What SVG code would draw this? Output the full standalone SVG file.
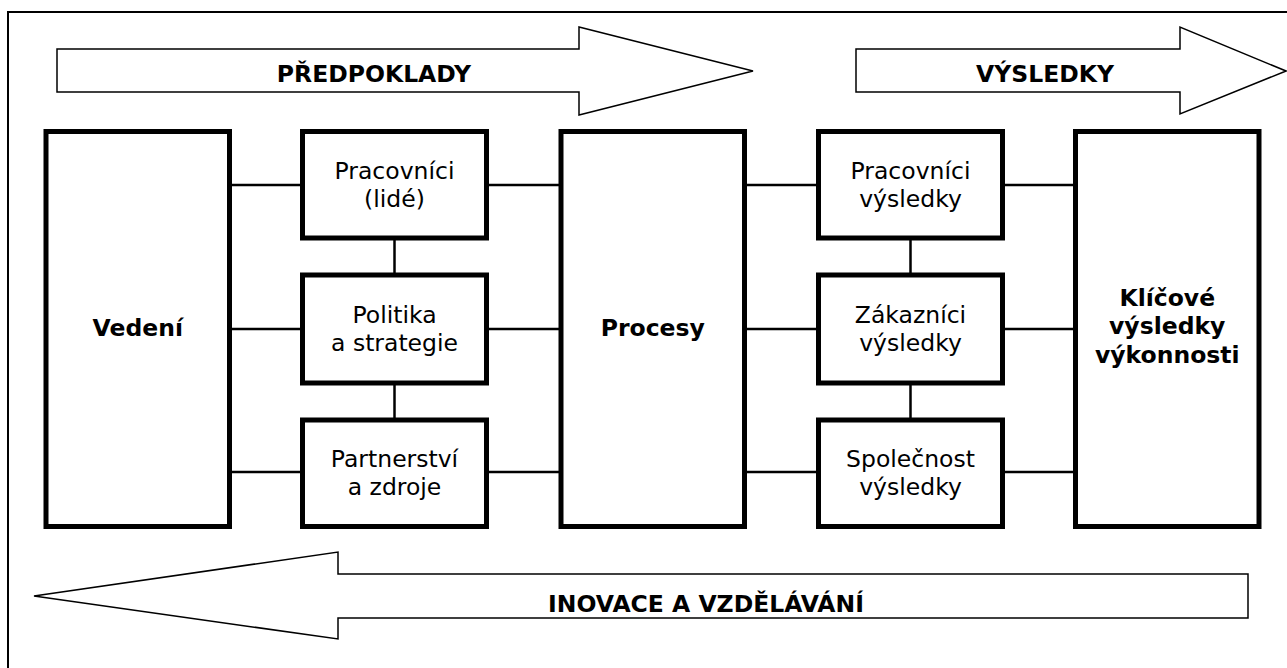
<svg xmlns="http://www.w3.org/2000/svg" width="1287" height="668" viewBox="0 0 1287 668">
  <style>
    .frame { fill: none; stroke: #000; stroke-width: 2; }
    .arrow { fill: #fff; stroke: #000; stroke-width: 1.5; stroke-linejoin: miter; }
    .box { fill: #fff; stroke: #000; stroke-width: 5; }
    .conn line { stroke: #000; stroke-width: 2.5; }
    text { font-family: "DejaVu Sans", Verdana, sans-serif; font-size: 23.5px; fill: #000; text-anchor: middle; }
    .b { font-weight: bold; }
  </style>
  <rect width="1287" height="668" fill="#fff"/>
  <path class="frame" d="M8,672 V12 H1292"/>

  <g id="arrow-predpoklady">
    <polygon class="arrow" points="57,49 579,49 579,27 753,71 579,115 579,92 57,92"/>
    <text class="b" x="374" y="82">PŘEDPOKLADY</text>
  </g>
  <g id="arrow-vysledky">
    <polygon class="arrow" points="856,49 1180,49 1180,27 1286,71 1180,114 1180,92 856,92"/>
    <text class="b" x="1045" y="82">VÝSLEDKY</text>
  </g>
  <g id="arrow-inovace">
    <polygon class="arrow" points="1248,574 338,574 338,552 34,596 338,639 338,618 1248,618"/>
    <text class="b" x="706" y="612">INOVACE A VZDĚLÁVÁNÍ</text>
  </g>

  <g id="connectors" class="conn">
    <line x1="229.5" y1="185" x2="302.5" y2="185"/>
    <line x1="229.5" y1="329" x2="302.5" y2="329"/>
    <line x1="229.5" y1="472" x2="302.5" y2="472"/>
    <line x1="486.5" y1="185" x2="561" y2="185"/>
    <line x1="486.5" y1="329" x2="561" y2="329"/>
    <line x1="486.5" y1="472" x2="561" y2="472"/>
    <line x1="744.5" y1="185" x2="818.5" y2="185"/>
    <line x1="744.5" y1="329" x2="818.5" y2="329"/>
    <line x1="744.5" y1="472" x2="818.5" y2="472"/>
    <line x1="1002.5" y1="185" x2="1075.5" y2="185"/>
    <line x1="1002.5" y1="329" x2="1075.5" y2="329"/>
    <line x1="1002.5" y1="472" x2="1075.5" y2="472"/>
    <line x1="394.5" y1="238" x2="394.5" y2="275"/>
    <line x1="394.5" y1="383" x2="394.5" y2="420"/>
    <line x1="910.5" y1="238" x2="910.5" y2="275"/>
    <line x1="910.5" y1="383" x2="910.5" y2="420"/>
  </g>

  <g id="vedeni">
    <rect class="box" x="46" y="131.5" width="183.5" height="395"/>
    <text class="b" x="137.75" y="336">Vedení</text>
  </g>
  <g id="pracovnici">
    <rect class="box" x="302.5" y="131.5" width="184" height="106.5"/>
    <text x="394.5" y="178.5">Pracovníci</text>
    <text x="394.5" y="206.5">(lidé)</text>
  </g>
  <g id="politika">
    <rect class="box" x="302.5" y="275" width="184" height="108"/>
    <text x="394.5" y="322.5">Politika</text>
    <text x="394.5" y="350.5">a strategie</text>
  </g>
  <g id="partnerstvi">
    <rect class="box" x="302.5" y="420" width="184" height="106.5"/>
    <text x="394.5" y="467">Partnerství</text>
    <text x="394.5" y="495">a zdroje</text>
  </g>
  <g id="procesy">
    <rect class="box" x="561" y="131.5" width="183.5" height="395"/>
    <text class="b" x="652.75" y="336">Procesy</text>
  </g>
  <g id="pracovnici-vysledky">
    <rect class="box" x="818.5" y="131.5" width="184" height="106.5"/>
    <text x="910.5" y="178.5">Pracovníci</text>
    <text x="910.5" y="206.5">výsledky</text>
  </g>
  <g id="zakaznici-vysledky">
    <rect class="box" x="818.5" y="275" width="184" height="108"/>
    <text x="910.5" y="322.5">Zákazníci</text>
    <text x="910.5" y="350.5">výsledky</text>
  </g>
  <g id="spolecnost-vysledky">
    <rect class="box" x="818.5" y="420" width="184" height="106.5"/>
    <text x="910.5" y="467">Společnost</text>
    <text x="910.5" y="495">výsledky</text>
  </g>
  <g id="klicove-vysledky">
    <rect class="box" x="1075.5" y="131.5" width="183.5" height="395"/>
    <text class="b" x="1167.25" y="305.5">Klíčové</text>
    <text class="b" x="1167.25" y="334">výsledky</text>
    <text class="b" x="1167.25" y="362.5">výkonnosti</text>
  </g>
</svg>
